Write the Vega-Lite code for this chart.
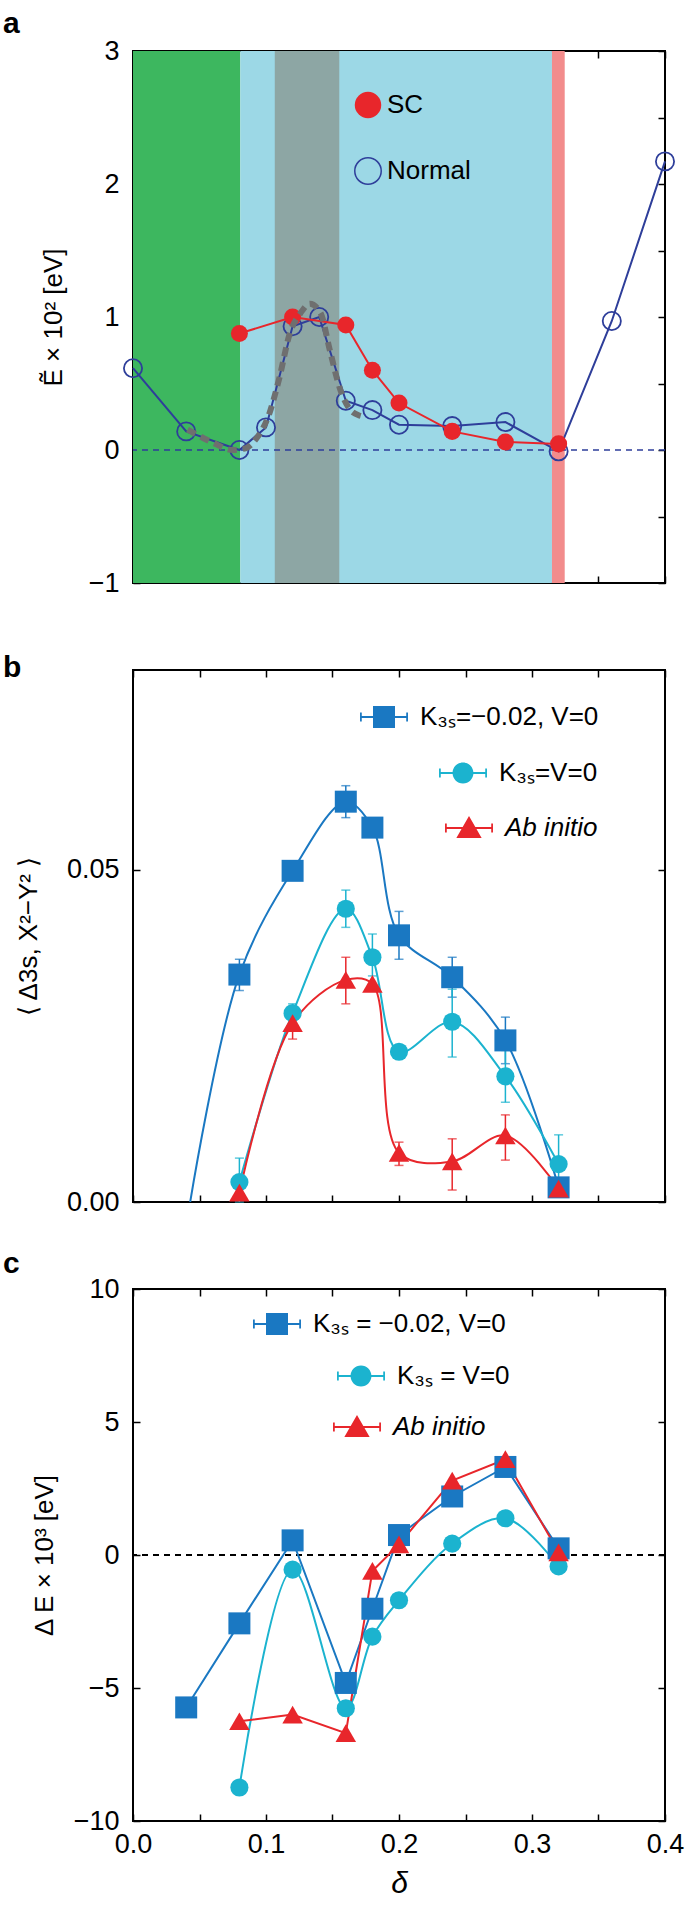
{
  "$schema": "https://vega.github.io/schema/vega-lite/v6.json",
  "background": "white",
  "padding": {"left": 2, "top": 8, "right": 20, "bottom": 14},
  "bounds": "flush",
  "spacing": 87,
  "config": {
    "font": "Liberation Sans",
    "view": {"stroke": "#000", "strokeWidth": 2},
    "axis": {
      "domain": false, "grid": false, "tickSize": -7, "tickColor": "#000", "tickWidth": 1.5,
      "labelFont": "Liberation Sans", "labelFontSize": 27, "labelColor": "#000", "labelPadding": 21,
      "labelFlush": false, "labelOverlap": false,
      "titleFont": "Liberation Sans", "titleFontSize": 26, "titleFontWeight": "normal", "titleColor": "#000"
    },
    "legend": {"labelFont": "Liberation Sans", "labelFontSize": 26, "labelColor": "#000", "padding": 0, "symbolOpacity": 1, "labelLimit": 400}
  },
  "datasets": {
    "bands": [
      {"start": 0, "end": 0.0807, "phase": "I"},
      {"start": 0.0807, "end": 0.315, "phase": "II"},
      {"start": 0.1066, "end": 0.1551, "phase": "III"},
      {"start": 0.315, "end": 0.3246, "phase": "IV"}
    ],
    "a": [
      {"series": "Normal", "d": 0, "e": 0.615},
      {"series": "Normal", "d": 0.04, "e": 0.14},
      {"series": "Normal", "d": 0.08, "e": 0.0},
      {"series": "Normal", "d": 0.10, "e": 0.17},
      {"series": "Normal", "d": 0.12, "e": 0.93},
      {"series": "Normal", "d": 0.14, "e": 1.0},
      {"series": "Normal", "d": 0.16, "e": 0.37},
      {"series": "Normal", "d": 0.18, "e": 0.30},
      {"series": "Normal", "d": 0.20, "e": 0.19},
      {"series": "Normal", "d": 0.24, "e": 0.18},
      {"series": "Normal", "d": 0.28, "e": 0.21},
      {"series": "Normal", "d": 0.32, "e": -0.01},
      {"series": "Normal", "d": 0.36, "e": 0.97},
      {"series": "Normal", "d": 0.40, "e": 2.17},
      {"series": "SC", "d": 0.08, "e": 0.876},
      {"series": "SC", "d": 0.12, "e": 1.0},
      {"series": "SC", "d": 0.16, "e": 0.94},
      {"series": "SC", "d": 0.18, "e": 0.6},
      {"series": "SC", "d": 0.20, "e": 0.353},
      {"series": "SC", "d": 0.24, "e": 0.14},
      {"series": "SC", "d": 0.28, "e": 0.06},
      {"series": "SC", "d": 0.32, "e": 0.046}
    ],
    "afit": [
      {"d": 0.041, "e": 0.154}, {"d": 0.059, "e": 0.06}, {"d": 0.075, "e": 0.0}, {"d": 0.085, "e": 0.015},
      {"d": 0.093, "e": 0.09}, {"d": 0.102, "e": 0.26}, {"d": 0.11, "e": 0.54}, {"d": 0.118, "e": 0.88},
      {"d": 0.126, "e": 1.03}, {"d": 0.133, "e": 1.1}, {"d": 0.141, "e": 1.03}, {"d": 0.148, "e": 0.75},
      {"d": 0.156, "e": 0.45}, {"d": 0.162, "e": 0.32}, {"d": 0.17, "e": 0.26}, {"d": 0.175, "e": 0.25}
    ],
    "b": [
      {"series": "sq", "d": 0.043, "v": 0.0, "lo": null, "hi": null, "mk": false},
      {"series": "sq", "d": 0.08, "v": 0.0342, "lo": 0.0318, "hi": 0.0365, "mk": true},
      {"series": "sq", "d": 0.12, "v": 0.0498, "lo": 0.0490, "hi": 0.0505, "mk": true},
      {"series": "sq", "d": 0.16, "v": 0.0602, "lo": 0.0578, "hi": 0.0626, "mk": true},
      {"series": "sq", "d": 0.18, "v": 0.0563, "lo": 0.0558, "hi": 0.0568, "mk": true},
      {"series": "sq", "d": 0.20, "v": 0.0401, "lo": 0.0365, "hi": 0.0437, "mk": true},
      {"series": "sq", "d": 0.24, "v": 0.0338, "lo": 0.0308, "hi": 0.0368, "mk": true},
      {"series": "sq", "d": 0.28, "v": 0.0243, "lo": 0.0208, "hi": 0.0278, "mk": true},
      {"series": "sq", "d": 0.32, "v": 0.0022, "lo": null, "hi": null, "mk": true},
      {"series": "ci", "d": 0.08, "v": 0.0030, "lo": 0.0, "hi": 0.0066, "mk": true},
      {"series": "ci", "d": 0.12, "v": 0.0284, "lo": 0.0270, "hi": 0.0298, "mk": true},
      {"series": "ci", "d": 0.16, "v": 0.0441, "lo": 0.0413, "hi": 0.0469, "mk": true},
      {"series": "ci", "d": 0.18, "v": 0.0368, "lo": 0.0340, "hi": 0.0403, "mk": true},
      {"series": "ci", "d": 0.20, "v": 0.0226, "lo": 0.0217, "hi": 0.0235, "mk": true},
      {"series": "ci", "d": 0.24, "v": 0.0271, "lo": 0.0218, "hi": 0.0320, "mk": true},
      {"series": "ci", "d": 0.28, "v": 0.0189, "lo": 0.0150, "hi": 0.0228, "mk": true},
      {"series": "ci", "d": 0.32, "v": 0.0057, "lo": 0.0012, "hi": 0.0101, "mk": true},
      {"series": "tr", "d": 0.08, "v": 0.0014, "lo": null, "hi": null, "mk": true},
      {"series": "tr", "d": 0.12, "v": 0.0269, "lo": 0.0245, "hi": 0.0285, "mk": true},
      {"series": "tr", "d": 0.16, "v": 0.0334, "lo": 0.0298, "hi": 0.0368, "mk": true},
      {"series": "tr", "d": 0.18, "v": 0.0328, "lo": null, "hi": null, "mk": true},
      {"series": "tr", "d": 0.20, "v": 0.0074, "lo": 0.0055, "hi": 0.0090, "mk": true},
      {"series": "tr", "d": 0.24, "v": 0.0061, "lo": 0.0018, "hi": 0.0095, "mk": true},
      {"series": "tr", "d": 0.28, "v": 0.0100, "lo": 0.0063, "hi": 0.0131, "mk": true},
      {"series": "tr", "d": 0.32, "v": 0.0020, "lo": null, "hi": null, "mk": true}
    ],
    "c": [
      {"series": "sq", "d": 0.04, "v": -5.73},
      {"series": "sq", "d": 0.08, "v": -2.57},
      {"series": "sq", "d": 0.12, "v": 0.55},
      {"series": "sq", "d": 0.16, "v": -4.81},
      {"series": "sq", "d": 0.18, "v": -2.02},
      {"series": "sq", "d": 0.20, "v": 0.75},
      {"series": "sq", "d": 0.24, "v": 2.2},
      {"series": "sq", "d": 0.28, "v": 3.31},
      {"series": "sq", "d": 0.32, "v": 0.25},
      {"series": "ci", "d": 0.08, "v": -8.74},
      {"series": "ci", "d": 0.12, "v": -0.55},
      {"series": "ci", "d": 0.16, "v": -5.76},
      {"series": "ci", "d": 0.18, "v": -3.07},
      {"series": "ci", "d": 0.20, "v": -1.70},
      {"series": "ci", "d": 0.24, "v": 0.43},
      {"series": "ci", "d": 0.28, "v": 1.38},
      {"series": "ci", "d": 0.32, "v": -0.43},
      {"series": "tr", "d": 0.08, "v": -6.25},
      {"series": "tr", "d": 0.12, "v": -6.0},
      {"series": "tr", "d": 0.16, "v": -6.7},
      {"series": "tr", "d": 0.18, "v": -0.6},
      {"series": "tr", "d": 0.20, "v": 0.4},
      {"series": "tr", "d": 0.24, "v": 2.8},
      {"series": "tr", "d": 0.28, "v": 3.6},
      {"series": "tr", "d": 0.32, "v": 0.1}
    ]
  },
  "vconcat": [
    {
      "width": 532, "height": 532,
      "title": {"text": "a", "anchor": "start", "frame": "group", "fontSize": 30, "fontWeight": "bold", "color": "#000", "baseline": "alphabetic", "offset": 0, "dx": -130, "dy": 26},
      "resolve": {"scale": {"shape": "independent"}, "legend": {"shape": "independent"}},
      "layer": [
        {
          "data": {"name": "bands"},
          "mark": {"type": "rect"},
          "encoding": {
            "x": {"field": "start", "type": "quantitative", "scale": {"domain": [0, 0.4], "nice": false, "zero": false},
                  "axis": {"orient": "bottom", "values": [0, 0.05, 0.1, 0.15, 0.2, 0.25, 0.3, 0.35, 0.4], "labels": false, "title": null}},
            "x2": {"field": "end"},
            "color": {"field": "phase", "type": "nominal", "scale": {"domain": ["I", "II", "III", "IV"], "range": ["#3db75f", "#9cd8e6", "#8da6a4", "#f28c8c"]}, "legend": null}
          }
        },
        {
          "data": {"values": [{}]},
          "mark": {"type": "rule", "color": "#2e3e9a", "strokeDash": [6, 5], "strokeWidth": 1.5},
          "encoding": {
            "y": {"datum": 0, "type": "quantitative", "scale": {"domain": [-1, 3], "nice": false, "zero": false},
                  "axis": {"orient": "left", "values": [-1, -0.5, 0, 0.5, 1, 1.5, 2, 2.5, 3], "format": ".0f", "labelExpr": "datum.value % 1 == 0 ? datum.label : ''",
                           "title": "Ẽ × 10² [eV]", "titleX": -80, "titleY": 266, "titleAngle": -90, "titleAlign": "center", "titleBaseline": "middle"}}
          }
        },
        {
          "data": {"name": "a"},
          "transform": [{"filter": "datum.series == 'Normal'"}],
          "mark": {"type": "line", "color": "#2e3e9a", "strokeWidth": 2},
          "encoding": {
            "x": {"field": "d", "type": "quantitative", "scale": {"domain": [0, 0.4], "nice": false, "zero": false},
                  "axis": {"orient": "top", "values": [0, 0.05, 0.1, 0.15, 0.2, 0.25, 0.3, 0.35, 0.4], "labels": false, "title": null}},
            "y": {"field": "e", "type": "quantitative", "scale": {"domain": [-1, 3], "nice": false, "zero": false},
                  "axis": {"orient": "right", "values": [-1, -0.5, 0, 0.5, 1, 1.5, 2, 2.5, 3], "labels": false, "title": null}}
          }
        },
        {
          "data": {"name": "a"},
          "transform": [{"filter": "datum.series == 'Normal'"}],
          "mark": {"type": "point", "filled": false, "color": "#2e3e9a", "strokeWidth": 1.8, "size": 330, "opacity": 1},
          "encoding": {
            "x": {"field": "d", "type": "quantitative", "axis": null},
            "y": {"field": "e", "type": "quantitative", "axis": null}
          }
        },
        {
          "data": {"name": "a"},
          "transform": [{"filter": "datum.series == 'SC'"}],
          "mark": {"type": "line", "color": "#e8262b", "strokeWidth": 2},
          "encoding": {
            "x": {"field": "d", "type": "quantitative", "axis": null},
            "y": {"field": "e", "type": "quantitative", "axis": null}
          }
        },
        {
          "data": {"name": "a"},
          "transform": [{"filter": "datum.series == 'SC'"}],
          "mark": {"type": "point", "filled": true, "color": "#e8262b", "size": 290, "opacity": 1},
          "encoding": {
            "x": {"field": "d", "type": "quantitative", "axis": null},
            "y": {"field": "e", "type": "quantitative", "axis": null}
          }
        },
        {
          "data": {"name": "afit"},
          "mark": {"type": "line", "color": "#6f6f6f", "strokeWidth": 6, "strokeDash": [9, 6], "strokeCap": "butt", "interpolate": "monotone", "opacity": 1},
          "encoding": {
            "x": {"field": "d", "type": "quantitative", "axis": null},
            "y": {"field": "e", "type": "quantitative", "axis": null}
          }
        },
        {
          "data": {"name": "a"},
          "transform": [{"filter": "datum.series == 'SC'"}],
          "mark": {"type": "point", "filled": true, "color": "#e8262b", "opacity": 0},
          "encoding": {
            "x": {"field": "d", "type": "quantitative", "axis": null},
            "y": {"field": "e", "type": "quantitative", "axis": null},
            "shape": {"field": "series", "type": "nominal", "scale": {"domain": ["SC"], "range": ["circle"]},
                      "legend": {"title": null, "orient": "none", "legendX": 221, "legendY": 40, "symbolSize": 700, "labelOffset": 5,
                                 "encode": {"symbols": {"fill": {"value": "#e8262b"}, "stroke": {"value": "#e8262b"}, "strokeWidth": {"value": 0}, "opacity": {"value": 1}}}}}
          }
        },
        {
          "data": {"name": "a"},
          "transform": [{"filter": "datum.series == 'Normal'"}],
          "mark": {"type": "point", "filled": false, "color": "#2e3e9a", "opacity": 0},
          "encoding": {
            "x": {"field": "d", "type": "quantitative", "axis": null},
            "y": {"field": "e", "type": "quantitative", "axis": null},
            "shape": {"field": "series", "type": "nominal", "scale": {"domain": ["Normal"], "range": ["circle"]},
                      "legend": {"title": null, "orient": "none", "legendX": 221, "legendY": 106, "symbolSize": 700, "labelOffset": 5,
                                 "encode": {"symbols": {"fill": {"value": "transparent"}, "stroke": {"value": "#2e3e9a"}, "strokeWidth": {"value": 1.8}, "opacity": {"value": 1}}}}}
          }
        }
      ]
    },
    {
      "width": 532, "height": 532,
      "title": {"text": "b", "anchor": "start", "frame": "group", "fontSize": 30, "fontWeight": "bold", "color": "#000", "baseline": "alphabetic", "offset": 0, "dx": -130, "dy": 38},
      "data": {"name": "b"},
      "resolve": {"scale": {"shape": "independent"}, "legend": {"shape": "independent"}},
      "layer": [
        {
          "transform": [{"filter": "datum.series == 'sq'"}],
          "mark": {"type": "line", "interpolate": "catmull-rom", "color": "#1a78c2", "strokeWidth": 2, "clip": true},
          "encoding": {
            "x": {"field": "d", "type": "quantitative", "scale": {"domain": [0, 0.4], "nice": false, "zero": false},
                  "axis": {"orient": "bottom", "values": [0, 0.05, 0.1, 0.15, 0.2, 0.25, 0.3, 0.35, 0.4], "labels": false, "title": null}},
            "y": {"field": "v", "type": "quantitative", "scale": {"domain": [0, 0.08], "nice": false, "zero": false},
                  "axis": {"orient": "left", "values": [0, 0.05], "format": ".2f",
                           "title": "⟨ Δ3s, X²−Y² ⟩", "titleX": -105, "titleY": 266, "titleAngle": -90, "titleAlign": "center", "titleBaseline": "middle"}}
          }
        },
        {
          "transform": [{"filter": "datum.series == 'ci'"}],
          "mark": {"type": "line", "interpolate": "catmull-rom", "color": "#1bb3cf", "strokeWidth": 2, "clip": true},
          "encoding": {
            "x": {"field": "d", "type": "quantitative", "scale": {"domain": [0, 0.4], "nice": false, "zero": false},
                  "axis": {"orient": "top", "values": [0, 0.05, 0.1, 0.15, 0.2, 0.25, 0.3, 0.35, 0.4], "labels": false, "title": null}},
            "y": {"field": "v", "type": "quantitative", "scale": {"domain": [0, 0.08], "nice": false, "zero": false},
                  "axis": {"orient": "right", "values": [0, 0.05], "labels": false, "title": null}}
          }
        },
        {
          "transform": [{"filter": "datum.series == 'tr'"}],
          "mark": {"type": "line", "interpolate": "catmull-rom", "color": "#e8262b", "strokeWidth": 2, "clip": true},
          "encoding": {
            "x": {"field": "d", "type": "quantitative", "axis": null},
            "y": {"field": "v", "type": "quantitative", "axis": null}
          }
        },
        {
          "transform": [{"filter": "datum.lo != null && datum.series == 'sq'"}],
          "mark": {"type": "errorbar", "color": "#1a78c2", "ticks": {"size": 9, "thickness": 1.5, "color": "#1a78c2"}, "rule": {"color": "#1a78c2", "strokeWidth": 1.5}},
          "encoding": {
            "x": {"field": "d", "type": "quantitative", "axis": null},
            "y": {"field": "lo", "type": "quantitative", "axis": null},
            "y2": {"field": "hi"}
          }
        },
        {
          "transform": [{"filter": "datum.lo != null && datum.series == 'ci'"}],
          "mark": {"type": "errorbar", "color": "#1bb3cf", "ticks": {"size": 9, "thickness": 1.5, "color": "#1bb3cf"}, "rule": {"color": "#1bb3cf", "strokeWidth": 1.5}},
          "encoding": {
            "x": {"field": "d", "type": "quantitative", "axis": null},
            "y": {"field": "lo", "type": "quantitative", "axis": null},
            "y2": {"field": "hi"}
          }
        },
        {
          "transform": [{"filter": "datum.lo != null && datum.series == 'tr'"}],
          "mark": {"type": "errorbar", "color": "#e8262b", "ticks": {"size": 9, "thickness": 1.5, "color": "#e8262b"}, "rule": {"color": "#e8262b", "strokeWidth": 1.5}},
          "encoding": {
            "x": {"field": "d", "type": "quantitative", "axis": null},
            "y": {"field": "lo", "type": "quantitative", "axis": null},
            "y2": {"field": "hi"}
          }
        },
        {
          "transform": [{"filter": "datum.series == 'sq' && datum.mk"}],
          "mark": {"type": "point", "shape": "square", "filled": true, "color": "#1a78c2", "size": 484, "opacity": 1},
          "encoding": {"x": {"field": "d", "type": "quantitative", "axis": null}, "y": {"field": "v", "type": "quantitative", "axis": null}}
        },
        {
          "transform": [{"filter": "datum.series == 'ci'"}],
          "mark": {"type": "point", "shape": "circle", "filled": true, "color": "#1bb3cf", "size": 330, "opacity": 1},
          "encoding": {"x": {"field": "d", "type": "quantitative", "axis": null}, "y": {"field": "v", "type": "quantitative", "axis": null}}
        },
        {
          "transform": [{"filter": "datum.series == 'tr'"}],
          "mark": {"type": "point", "shape": "triangle-up", "filled": true, "color": "#e8262b", "size": 420, "opacity": 1},
          "encoding": {"x": {"field": "d", "type": "quantitative", "axis": null}, "y": {"field": "v", "type": "quantitative", "axis": null}}
        },
        {
          "transform": [{"filter": "datum.series == 'sq' && datum.mk"}],
          "mark": {"type": "point", "filled": true, "color": "#1a78c2", "opacity": 0},
          "encoding": {
            "x": {"field": "d", "type": "quantitative", "axis": null}, "y": {"field": "v", "type": "quantitative", "axis": null},
            "shape": {"field": "series", "type": "nominal", "scale": {"domain": ["sq"], "range": ["M-2.1,-0.08H2.1V0.08H-2.1Z M-2.18,-0.42H-2.02V0.42H-2.18Z M2.02,-0.42H2.18V0.42H2.02Z M-1,-1H1V1H-1Z"]},
                      "legend": {"title": null, "orient": "none", "legendX": 238, "legendY": 34, "symbolSize": 484, "labelOffset": 23, "labelExpr": "'K₃ₛ=−0.02, V=0'",
                                 "encode": {"symbols": {"fill": {"value": "#1a78c2"}, "strokeWidth": {"value": 0}, "opacity": {"value": 1}}}}}
          }
        },
        {
          "transform": [{"filter": "datum.series == 'ci'"}],
          "mark": {"type": "point", "filled": true, "color": "#1bb3cf", "opacity": 0},
          "encoding": {
            "x": {"field": "d", "type": "quantitative", "axis": null}, "y": {"field": "v", "type": "quantitative", "axis": null},
            "shape": {"field": "series", "type": "nominal", "scale": {"domain": ["ci"], "range": ["M-2.1,-0.08H2.1V0.08H-2.1Z M-2.18,-0.42H-2.02V0.42H-2.18Z M2.02,-0.42H2.18V0.42H2.02Z M0.95,0A0.95,0.95,0,1,1,-0.95,0A0.95,0.95,0,1,1,0.95,0Z"]},
                      "legend": {"title": null, "orient": "none", "legendX": 317, "legendY": 90, "symbolSize": 484, "labelOffset": 23, "labelExpr": "'K₃ₛ=V=0'",
                                 "encode": {"symbols": {"fill": {"value": "#1bb3cf"}, "strokeWidth": {"value": 0}, "opacity": {"value": 1}}}}}
          }
        },
        {
          "transform": [{"filter": "datum.series == 'tr'"}],
          "mark": {"type": "point", "filled": true, "color": "#e8262b", "opacity": 0},
          "encoding": {
            "x": {"field": "d", "type": "quantitative", "axis": null}, "y": {"field": "v", "type": "quantitative", "axis": null},
            "shape": {"field": "series", "type": "nominal", "scale": {"domain": ["tr"], "range": ["M-2.1,-0.08H2.1V0.08H-2.1Z M-2.18,-0.42H-2.02V0.42H-2.18Z M2.02,-0.42H2.18V0.42H2.02Z M0,-1.1L1.15,0.9H-1.15Z"]},
                      "legend": {"title": null, "orient": "none", "legendX": 323, "legendY": 145, "symbolSize": 484, "labelOffset": 23, "labelFontStyle": "italic", "labelExpr": "'Ab initio'",
                                 "encode": {"symbols": {"fill": {"value": "#e8262b"}, "strokeWidth": {"value": 0}, "opacity": {"value": 1}}}}}
          }
        }
      ]
    },
    {
      "width": 532, "height": 532,
      "title": {"text": "c", "anchor": "start", "frame": "group", "fontSize": 30, "fontWeight": "bold", "color": "#000", "baseline": "alphabetic", "offset": 0, "dx": -130, "dy": 28},
      "data": {"name": "c"},
      "resolve": {"scale": {"shape": "independent"}, "legend": {"shape": "independent"}},
      "layer": [
        {
          "data": {"values": [{}]},
          "mark": {"type": "rule", "color": "#000", "strokeDash": [6, 5], "strokeWidth": 2},
          "encoding": {
            "y": {"datum": 0, "type": "quantitative", "scale": {"domain": [-10, 10], "nice": false, "zero": false},
                  "axis": {"orient": "left", "values": [-10, -5, 0, 5, 10],
                           "title": "Δ E × 10³ [eV]", "titleX": -89, "titleY": 266, "titleAngle": -90, "titleAlign": "center", "titleBaseline": "middle"}}
          }
        },
        {
          "transform": [{"filter": "datum.series == 'sq'"}],
          "mark": {"type": "line", "color": "#1a78c2", "strokeWidth": 2, "clip": true},
          "encoding": {
            "x": {"field": "d", "type": "quantitative", "scale": {"domain": [0, 0.4], "nice": false, "zero": false},
                  "axis": {"orient": "bottom", "values": [0, 0.05, 0.1, 0.15, 0.2, 0.25, 0.3, 0.35, 0.4], "format": ".1f",
                           "labelExpr": "round(datum.value * 100) % 10 == 0 ? datum.label : ''", "labelPadding": 17,
                           "title": "δ", "titleFontStyle": "italic", "titleFontSize": 30, "titleX": 266, "titleY": 62, "titleBaseline": "middle", "titleAlign": "center"}},
            "y": {"field": "v", "type": "quantitative", "scale": {"domain": [-10, 10], "nice": false, "zero": false},
                  "axis": {"orient": "right", "values": [-10, -5, 0, 5, 10], "labels": false, "title": null}}
          }
        },
        {
          "transform": [{"filter": "datum.series == 'ci'"}],
          "mark": {"type": "line", "interpolate": "catmull-rom", "color": "#1bb3cf", "strokeWidth": 2, "clip": true},
          "encoding": {
            "x": {"field": "d", "type": "quantitative", "scale": {"domain": [0, 0.4], "nice": false, "zero": false},
                  "axis": {"orient": "top", "values": [0, 0.05, 0.1, 0.15, 0.2, 0.25, 0.3, 0.35, 0.4], "labels": false, "title": null}},
            "y": {"field": "v", "type": "quantitative", "axis": null}
          }
        },
        {
          "transform": [{"filter": "datum.series == 'tr'"}],
          "mark": {"type": "line", "color": "#e8262b", "strokeWidth": 2, "clip": true},
          "encoding": {"x": {"field": "d", "type": "quantitative", "axis": null}, "y": {"field": "v", "type": "quantitative", "axis": null}}
        },
        {
          "transform": [{"filter": "datum.series == 'sq'"}],
          "mark": {"type": "point", "shape": "square", "filled": true, "color": "#1a78c2", "size": 484, "opacity": 1},
          "encoding": {"x": {"field": "d", "type": "quantitative", "axis": null}, "y": {"field": "v", "type": "quantitative", "axis": null}}
        },
        {
          "transform": [{"filter": "datum.series == 'ci'"}],
          "mark": {"type": "point", "shape": "circle", "filled": true, "color": "#1bb3cf", "size": 330, "opacity": 1},
          "encoding": {"x": {"field": "d", "type": "quantitative", "axis": null}, "y": {"field": "v", "type": "quantitative", "axis": null}}
        },
        {
          "transform": [{"filter": "datum.series == 'tr'"}],
          "mark": {"type": "point", "shape": "triangle-up", "filled": true, "color": "#e8262b", "size": 420, "opacity": 1},
          "encoding": {"x": {"field": "d", "type": "quantitative", "axis": null}, "y": {"field": "v", "type": "quantitative", "axis": null}}
        },
        {
          "transform": [{"filter": "datum.series == 'sq'"}],
          "mark": {"type": "point", "filled": true, "color": "#1a78c2", "opacity": 0},
          "encoding": {
            "x": {"field": "d", "type": "quantitative", "axis": null}, "y": {"field": "v", "type": "quantitative", "axis": null},
            "shape": {"field": "series", "type": "nominal", "scale": {"domain": ["sq"], "range": ["M-2.1,-0.08H2.1V0.08H-2.1Z M-2.18,-0.42H-2.02V0.42H-2.18Z M2.02,-0.42H2.18V0.42H2.02Z M-1,-1H1V1H-1Z"]},
                      "legend": {"title": null, "orient": "none", "legendX": 131, "legendY": 22, "symbolSize": 484, "labelOffset": 23, "labelExpr": "'K₃ₛ = −0.02, V=0'",
                                 "encode": {"symbols": {"fill": {"value": "#1a78c2"}, "strokeWidth": {"value": 0}, "opacity": {"value": 1}}}}}
          }
        },
        {
          "transform": [{"filter": "datum.series == 'ci'"}],
          "mark": {"type": "point", "filled": true, "color": "#1bb3cf", "opacity": 0},
          "encoding": {
            "x": {"field": "d", "type": "quantitative", "axis": null}, "y": {"field": "v", "type": "quantitative", "axis": null},
            "shape": {"field": "series", "type": "nominal", "scale": {"domain": ["ci"], "range": ["M-2.1,-0.08H2.1V0.08H-2.1Z M-2.18,-0.42H-2.02V0.42H-2.18Z M2.02,-0.42H2.18V0.42H2.02Z M0.95,0A0.95,0.95,0,1,1,-0.95,0A0.95,0.95,0,1,1,0.95,0Z"]},
                      "legend": {"title": null, "orient": "none", "legendX": 215, "legendY": 74, "symbolSize": 484, "labelOffset": 23, "labelExpr": "'K₃ₛ = V=0'",
                                 "encode": {"symbols": {"fill": {"value": "#1bb3cf"}, "strokeWidth": {"value": 0}, "opacity": {"value": 1}}}}}
          }
        },
        {
          "transform": [{"filter": "datum.series == 'tr'"}],
          "mark": {"type": "point", "filled": true, "color": "#e8262b", "opacity": 0},
          "encoding": {
            "x": {"field": "d", "type": "quantitative", "axis": null}, "y": {"field": "v", "type": "quantitative", "axis": null},
            "shape": {"field": "series", "type": "nominal", "scale": {"domain": ["tr"], "range": ["M-2.1,-0.08H2.1V0.08H-2.1Z M-2.18,-0.42H-2.02V0.42H-2.18Z M2.02,-0.42H2.18V0.42H2.02Z M0,-1.1L1.15,0.9H-1.15Z"]},
                      "legend": {"title": null, "orient": "none", "legendX": 211, "legendY": 125, "symbolSize": 484, "labelOffset": 23, "labelFontStyle": "italic", "labelExpr": "'Ab initio'",
                                 "encode": {"symbols": {"fill": {"value": "#e8262b"}, "strokeWidth": {"value": 0}, "opacity": {"value": 1}}}}}
          }
        }
      ]
    }
  ]
}
